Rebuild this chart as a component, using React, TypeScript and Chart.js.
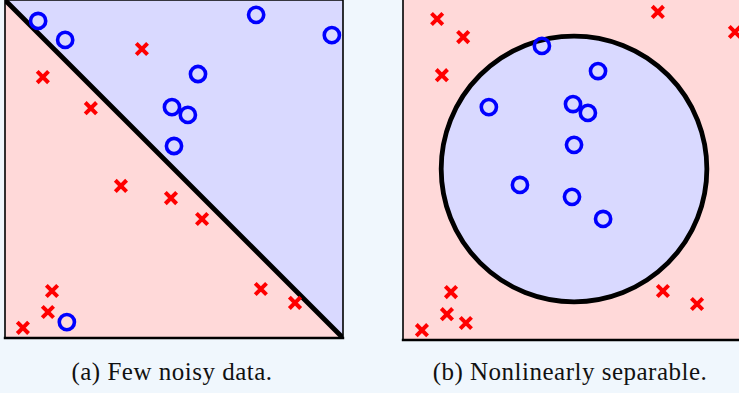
import React, { useEffect, useRef } from "react";
import { Chart, registerables } from "chart.js";

Chart.register(...registerables);

// ---------- data ----------
// Panel (a): few noisy data, linear boundary
const leftBlue = [
  { x: 0.98, y: 9.38 }, { x: 1.78, y: 8.82 }, { x: 7.43, y: 9.56 }, { x: 9.67, y: 8.96 },
  { x: 5.71, y: 7.81 }, { x: 4.94, y: 6.83 }, { x: 5.41, y: 6.6 }, { x: 5.0, y: 5.68 },
  { x: 1.83, y: 0.47 },
];
const leftRed = [
  { x: 4.05, y: 8.55 }, { x: 1.12, y: 7.72 }, { x: 2.54, y: 6.8 }, { x: 3.43, y: 4.5 },
  { x: 4.91, y: 4.14 }, { x: 5.83, y: 3.52 }, { x: 1.39, y: 1.39 }, { x: 1.27, y: 0.77 },
  { x: 0.53, y: 0.3 }, { x: 7.57, y: 1.45 }, { x: 8.58, y: 1.04 },
];
const leftBoundary = [{ x: 0, y: 10 }, { x: 10, y: 0 }];

// Panel (b): nonlinearly separable, circular boundary
const rightBlue = [
  { x: 4.11, y: 8.65 }, { x: 5.77, y: 7.91 }, { x: 2.54, y: 6.85 }, { x: 5.03, y: 6.94 },
  { x: 5.47, y: 6.68 }, { x: 5.06, y: 5.74 }, { x: 3.46, y: 4.56 }, { x: 5.0, y: 4.21 },
  { x: 5.92, y: 3.56 },
];
const rightRed = [
  { x: 1.01, y: 9.44 }, { x: 1.78, y: 8.91 }, { x: 1.15, y: 7.79 }, { x: 7.54, y: 9.65 },
  { x: 9.82, y: 9.06 }, { x: 1.42, y: 1.41 }, { x: 1.3, y: 0.76 }, { x: 1.86, y: 0.5 },
  { x: 0.56, y: 0.29 }, { x: 7.69, y: 1.44 }, { x: 8.7, y: 1.06 },
];
const circleCenter = [{ x: 5.06, y: 5.03 }];
const circleRadius = 3.93;

const captions = ["(a) Few noisy data.", "(b) Nonlinearly separable."];

// ---------- styles ----------
const PAGE_BG = "#f0f7fd";
const PINK = "#ffd9d9";
const LAV = "#d9d9ff";
const RED = "#ff0000";
const BLUE = "#0000ff";

const bgPlugin = {
  id: "panelBg",
  beforeDraw(chart: any) {
    const { ctx, chartArea: a } = chart;
    ctx.save();
    ctx.fillStyle = PINK;
    ctx.fillRect(a.left, a.top, a.right - a.left, a.bottom - a.top);
    ctx.restore();
  },
};

const makeFramePlugin = (sides: { top: boolean; right: boolean }) => ({
  id: "panelFrame",
  afterDraw(chart: any) {
    const { ctx, chartArea: a } = chart;
    ctx.save();
    ctx.strokeStyle = "#000";
    ctx.lineCap = "square";
    ctx.lineWidth = 1.6;
    ctx.beginPath();
    ctx.moveTo(a.left, a.bottom);
    ctx.lineTo(a.left, a.top);
    if (sides.top) ctx.lineTo(a.right, a.top);
    if (sides.right) {
      ctx.moveTo(a.right, a.top);
      ctx.lineTo(a.right, a.bottom);
    }
    ctx.stroke();
    ctx.lineWidth = 2.4;
    ctx.beginPath();
    ctx.moveTo(a.left, a.bottom);
    ctx.lineTo(a.right, a.bottom);
    ctx.stroke();
    ctx.restore();
  },
});

const circleSet = (data: any[]) => ({
  data,
  pointStyle: "circle",
  pointRadius: 7.6,
  borderWidth: 3.6,
  borderColor: BLUE,
  backgroundColor: "rgba(0,0,0,0)",
  order: 1,
});
const crossSet = (data: any[]) => ({
  data,
  pointStyle: "crossRot",
  pointRadius: 8,
  borderWidth: 4,
  borderColor: RED,
  backgroundColor: RED,
  order: 2,
});

const baseOptions = (padding: any) => ({
  responsive: false,
  animation: false as const,
  events: [] as any[],
  devicePixelRatio: 1,
  layout: { padding, autoPadding: false },
  plugins: { legend: { display: false }, tooltip: { enabled: false } },
  scales: {
    x: { type: "linear" as const, min: 0, max: 10, display: false },
    y: { type: "linear" as const, min: 0, max: 10, display: false },
  },
});

export default function App() {
  const leftRef = useRef<HTMLCanvasElement | null>(null);
  const rightRef = useRef<HTMLCanvasElement | null>(null);

  useEffect(() => {
    const left = new Chart(leftRef.current as HTMLCanvasElement, {
      type: "scatter",
      data: {
        datasets: [
          circleSet(leftBlue) as any,
          crossSet(leftRed) as any,
          {
            data: leftBoundary,
            showLine: true,
            pointRadius: 0,
            borderColor: "#000",
            borderWidth: 4.8,
            fill: "end",
            backgroundColor: LAV,
            order: 3,
          } as any,
        ],
      },
      options: baseOptions({ left: 5, top: 0, right: 17, bottom: 12 }) as any,
      plugins: [bgPlugin, makeFramePlugin({ top: true, right: true })],
    });

    const right = new Chart(rightRef.current as HTMLCanvasElement, {
      type: "scatter",
      data: {
        datasets: [
          circleSet(rightBlue) as any,
          crossSet(rightRed) as any,
          {
            data: circleCenter,
            pointStyle: "circle",
            pointRadius: (c: any) => {
              const xs = c.chart.scales.x;
              return Math.abs(xs.getPixelForValue(circleRadius) - xs.getPixelForValue(0));
            },
            borderColor: "#000",
            borderWidth: 4.8,
            backgroundColor: LAV,
            clip: false,
            order: 3,
          } as any,
        ],
      },
      options: baseOptions({ left: 13, top: 0, right: 9, bottom: 10 }) as any,
      plugins: [bgPlugin, makeFramePlugin({ top: false, right: false })],
    });

    return () => {
      left.destroy();
      right.destroy();
    };
  }, []);

  const capStyle: React.CSSProperties = {
    position: "absolute",
    top: 358,
    fontFamily: "'Liberation Serif', serif",
    fontSize: 25,
    letterSpacing: 0.5,
    lineHeight: "28px",
    color: "#111",
    textAlign: "center",
    whiteSpace: "nowrap",
  };

  return (
    <div
      style={{
        position: "absolute",
        left: 0,
        top: 0,
        width: 739,
        height: 393,
        background: PAGE_BG,
        overflow: "hidden",
      }}
    >
      <canvas
        ref={leftRef}
        width={360}
        height={350}
        style={{ position: "absolute", left: 0, top: 0 }}
      />
      <canvas
        ref={rightRef}
        width={360}
        height={350}
        style={{ position: "absolute", left: 390, top: 0 }}
      />
      <div style={{ ...capStyle, left: 0, width: 344 }}>{captions[0]}</div>
      <div style={{ ...capStyle, left: 400, width: 340 }}>{captions[1]}</div>
    </div>
  );
}
